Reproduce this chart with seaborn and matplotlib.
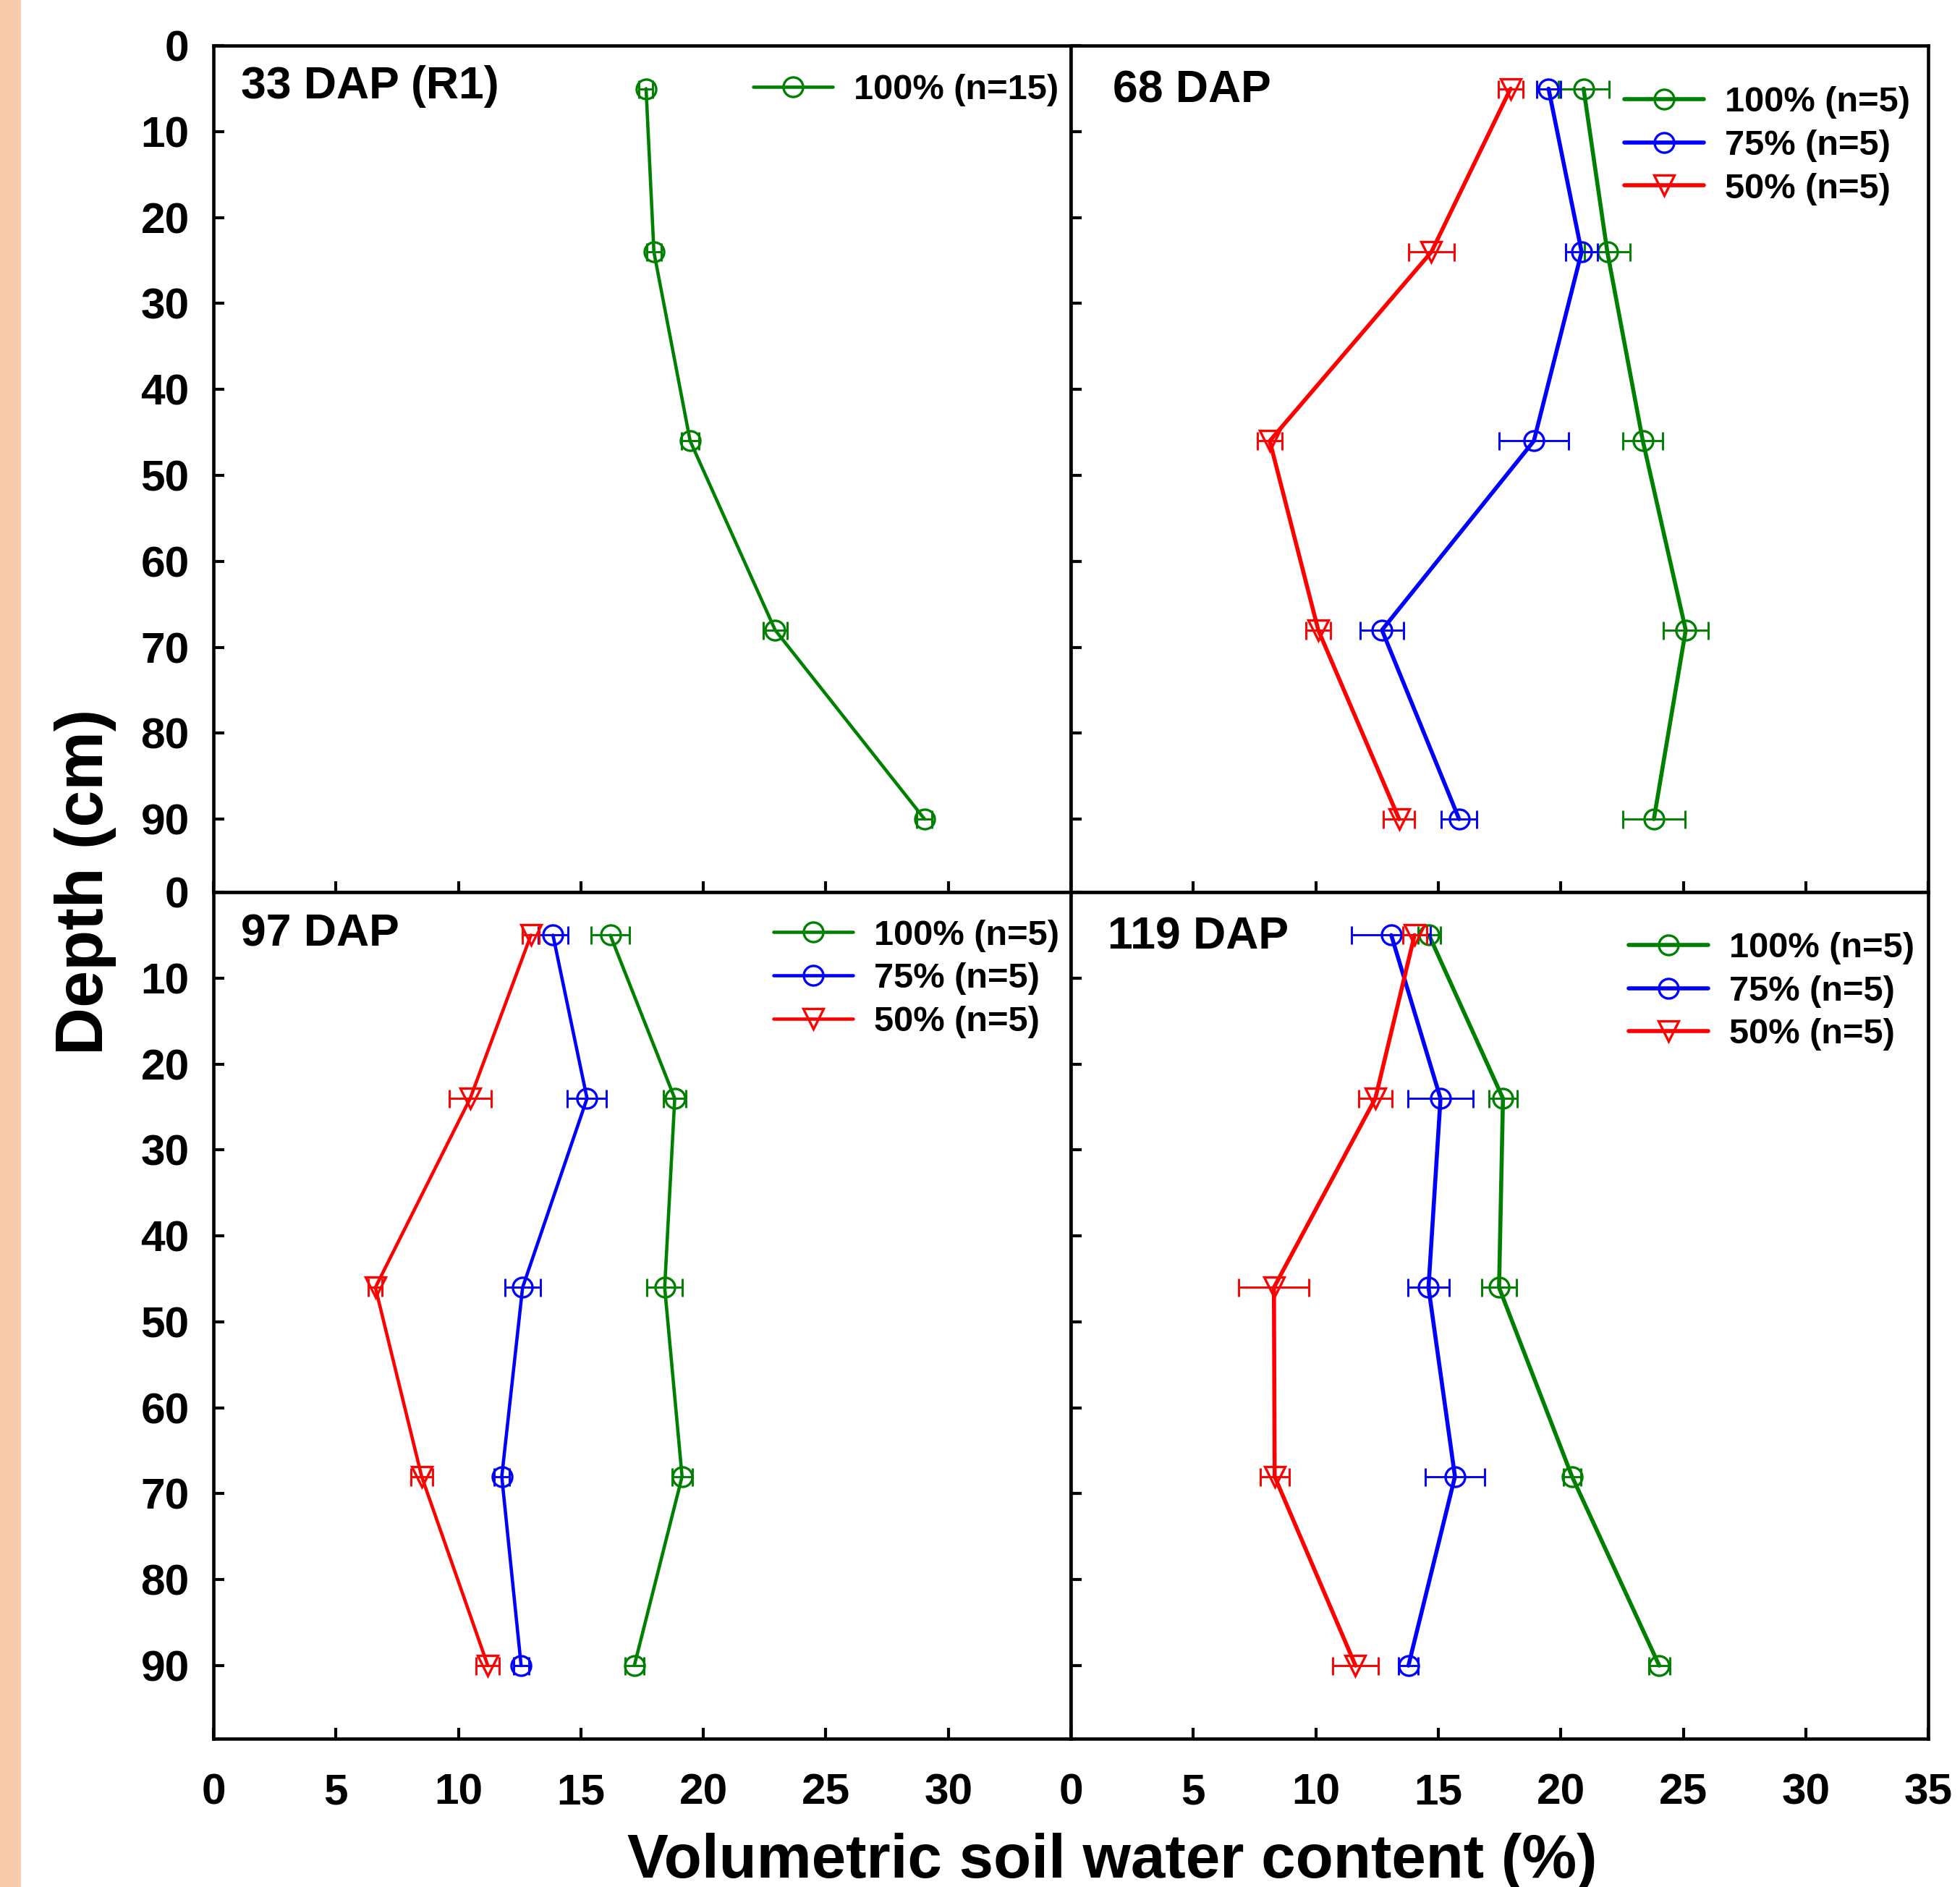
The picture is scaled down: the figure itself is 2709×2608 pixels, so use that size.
import matplotlib
matplotlib.use("Agg")
import matplotlib.pyplot as plt
from matplotlib.patches import Rectangle
import pandas as pd
import seaborn as sns

# depth of each reading (cm)
depth = [5, 24, 46, 68, 90]

# volumetric soil water content (%) and error, per sampling date
dap33_100 = [17.66, 17.98, 19.46, 22.93, 29.03]
dap33_100_err = [0.28, 0.30, 0.35, 0.49, 0.31]

dap68_100 = [20.93, 21.90, 23.35, 25.10, 23.80]
dap68_100_err = [1.04, 0.94, 0.81, 0.91, 1.27]
dap68_75 = [19.50, 20.85, 18.90, 12.70, 15.85]
dap68_75_err = [0.49, 0.65, 1.42, 0.88, 0.73]
dap68_50 = [17.95, 14.72, 8.12, 10.10, 13.40]
dap68_50_err = [0.50, 0.94, 0.49, 0.51, 0.64]

dap97_100 = [16.20, 18.83, 18.42, 19.13, 17.18]
dap97_100_err = [0.78, 0.47, 0.72, 0.41, 0.38]
dap97_75 = [13.86, 15.25, 12.62, 11.77, 12.56]
dap97_75_err = [0.61, 0.80, 0.72, 0.31, 0.31]
dap97_50 = [12.96, 10.48, 6.61, 8.50, 11.20]
dap97_50_err = [0.34, 0.85, 0.28, 0.44, 0.47]

dap119_100 = [14.62, 17.64, 17.48, 20.46, 24.02]
dap119_100_err = [0.46, 0.58, 0.72, 0.35, 0.42]
dap119_75 = [13.08, 15.09, 14.60, 15.68, 13.78]
dap119_75_err = [1.61, 1.32, 0.84, 1.21, 0.40]
dap119_50 = [14.03, 12.43, 8.29, 8.32, 11.62]
dap119_50_err = [0.49, 0.67, 1.43, 0.59, 0.93]

panel_titles = ["33 DAP (R1)", "68 DAP", "97 DAP", "119 DAP"]
colors = {"100%": "green", "75%": "blue", "50%": "red"}
markers = {"100%": "o", "75%": "o", "50%": "v"}

series = [
    [("100% (n=15)", "100%", dap33_100, dap33_100_err)],
    [("100% (n=5)", "100%", dap68_100, dap68_100_err),
     ("75% (n=5)", "75%", dap68_75, dap68_75_err),
     ("50% (n=5)", "50%", dap68_50, dap68_50_err)],
    [("100% (n=5)", "100%", dap97_100, dap97_100_err),
     ("75% (n=5)", "75%", dap97_75, dap97_75_err),
     ("50% (n=5)", "50%", dap97_50, dap97_50_err)],
    [("100% (n=5)", "100%", dap119_100, dap119_100_err),
     ("75% (n=5)", "75%", dap119_75, dap119_75_err),
     ("50% (n=5)", "50%", dap119_50, dap119_50_err)],
]

sns.set_theme(style="white")
plt.rcParams["font.family"] = ["Liberation Sans", "DejaVu Sans"]
plt.rcParams["font.weight"] = "bold"
plt.rcParams["text.color"] = "black"
plt.rcParams["xtick.color"] = "black"
plt.rcParams["ytick.color"] = "black"
plt.rcParams["axes.labelcolor"] = "black"

fig, axes = plt.subplots(2, 2, figsize=(2709 / 300, 2608 / 300), dpi=300)
fig.subplots_adjust(left=0.1089, right=0.9838, bottom=0.0786, top=0.9758,
                    wspace=0, hspace=0)
fig.patches.append(Rectangle((0, 0), 29 / 2709, 1, transform=fig.transFigure,
                             facecolor="#F8CBAD", edgecolor="none"))

title_pos = [(0.032, 0.938), (0.049, 0.933), (0.032, 0.936), (0.043, 0.9326)]
legend_pos = [(0.9857, 0.967), (0.979, 0.952), (0.9865, 0.968), (0.984, 0.953)]
line_w = [1.1, 1.35, 1.1, 1.35]

for i, ax in enumerate(axes.flat):
    for label, trt, vals, err in series[i]:
        df = pd.DataFrame({"swc": vals, "depth": depth})
        c = colors[trt]
        sns.lineplot(data=df, x="swc", y="depth", orient="y", sort=False,
                     errorbar=None, color=c, marker=markers[trt], markersize=6.5,
                     markerfacecolor="none", markeredgecolor=c,
                     markeredgewidth=0.8, linewidth=line_w[i], label=label, ax=ax)
        ax.errorbar(vals, depth, xerr=err, fmt="none", ecolor=c,
                    elinewidth=0.7, capsize=3, capthick=0.7)

    ax.set_ylim(98.5, 0)
    ax.set_yticks(range(0, 100, 10))
    col = i % 2
    row = i // 2
    ax.set_xlim(0, 35)
    ax.set_xticks(range(0, 31, 5) if col == 0 else range(0, 36, 5))
    ax.set_xlabel("")
    ax.set_ylabel("")
    ax.tick_params(axis="both", direction="in", length=3.5, width=1.0,
                   labelsize=14.5, color="black", labelcolor="black")
    ax.tick_params(axis="y", pad=8, left=True, labelleft=(col == 0))
    ax.tick_params(axis="x", pad=11.5, bottom=True, labelbottom=(row == 1))
    for lab in ax.get_xticklabels() + ax.get_yticklabels():
        lab.set_fontweight("bold")
    for sp in ax.spines.values():
        sp.set_color("black")
        sp.set_linewidth(1.1)

    ax.text(title_pos[i][0], title_pos[i][1], panel_titles[i],
            transform=ax.transAxes, fontsize=15, fontweight="bold",
            color="black", ha="left", va="baseline")

    leg = ax.legend(loc="upper right", bbox_to_anchor=legend_pos[i],
                    frameon=False, fontsize=11.7, borderpad=0, borderaxespad=0,
                    handlelength=2.25, handletextpad=0.6, labelspacing=0.3,
                    markerscale=1.0)
    for t in leg.get_texts():
        t.set_fontweight("bold")
        t.set_color("black")

fig.text(0.0435, 0.5326, "Depth (cm)", rotation=90, fontsize=22,
         fontweight="bold", color="black", ha="center", va="center")
fig.text(0.5675, 0.005, "Volumetric soil water content (%)", fontsize=20.5,
         fontweight="bold", color="black", ha="center", va="baseline")

fig.savefig("out.png", dpi=300)
